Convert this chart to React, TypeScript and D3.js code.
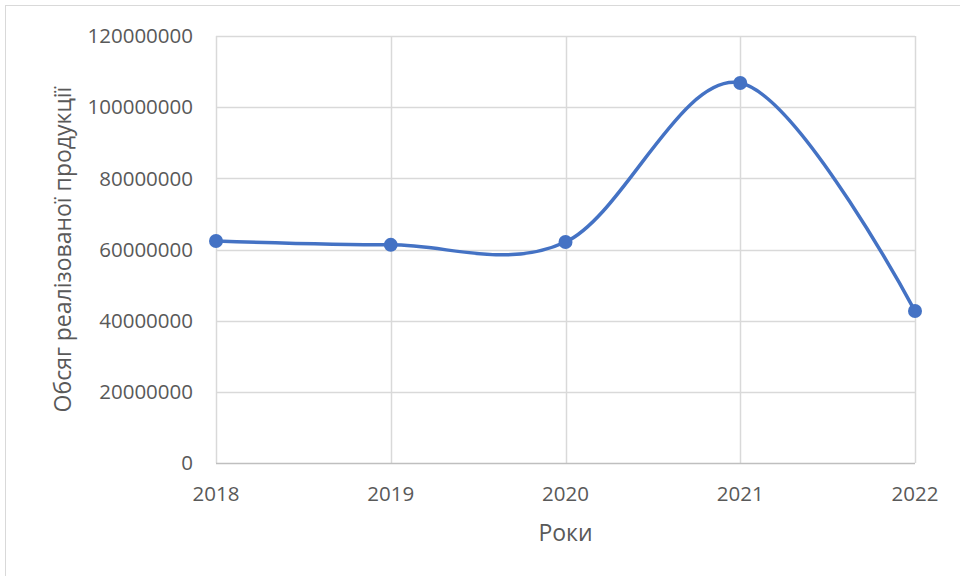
import React, { useEffect, useRef } from 'react';
import * as d3 from 'd3';

const years = ['2018', '2019', '2020', '2021', '2022'];
const volumes = [62400000, 61300000, 62100000, 106800000, 42700000];
const yTicks = [0, 20000000, 40000000, 60000000, 80000000, 100000000, 120000000];

const width = 960;
const height = 576;

const App = () => {
  const svgRef = useRef<SVGSVGElement | null>(null);

  useEffect(() => {
    if (!svgRef.current) return;
    const svg = d3.select(svgRef.current);
    svg.selectAll('*').remove();

    const margin = { top: 36, right: 45, bottom: 113, left: 216 };
    const chartWidth = width - margin.left - margin.right;
    const chartHeight = height - margin.top - margin.bottom;
    const font = '"Open Sans", sans-serif';
    const textColor = '#595959';

    // outer chart border
    svg.append('rect')
      .attr('x', 5.5)
      .attr('y', 5.5)
      .attr('width', width + 10)
      .attr('height', height + 10)
      .attr('fill', '#fff')
      .attr('stroke', '#d9d9d9');

    const content = svg.append('g')
      .attr('transform', `translate(${margin.left},${margin.top})`);

    const x = d3.scalePoint()
      .domain(years)
      .range([0, chartWidth]);

    const y = d3.scaleLinear()
      .domain([0, 120000000])
      .range([chartHeight, 0]);

    // horizontal grid
    content.append('g')
      .selectAll('line')
      .data(yTicks.slice(1))
      .join('line')
      .attr('x1', 0)
      .attr('x2', chartWidth)
      .attr('y1', d => Math.round(y(d)) + 0.5)
      .attr('y2', d => Math.round(y(d)) + 0.5)
      .attr('stroke', '#d9d9d9')
      .attr('stroke-width', 1.5);

    // vertical grid
    content.append('g')
      .selectAll('line')
      .data(years)
      .join('line')
      .attr('x1', d => Math.round(x(d) || 0) + 0.5)
      .attr('x2', d => Math.round(x(d) || 0) + 0.5)
      .attr('y1', 0)
      .attr('y2', chartHeight)
      .attr('stroke', '#d9d9d9')
      .attr('stroke-width', 1.5);

    // x axis line
    content.append('line')
      .attr('x1', 0)
      .attr('x2', chartWidth)
      .attr('y1', chartHeight + 0.5)
      .attr('y2', chartHeight + 0.5)
      .attr('stroke', '#bfbfbf')
      .attr('stroke-width', 1.5);

    // y tick labels
    content.append('g')
      .selectAll('text')
      .data(yTicks)
      .join('text')
      .attr('x', -23)
      .attr('y', d => y(d))
      .attr('dy', '0.35em')
      .attr('text-anchor', 'end')
      .style('font-family', font)
      .style('font-size', '20.5px')
      .style('fill', textColor)
      .text(d => String(d));

    // x tick labels
    content.append('g')
      .selectAll('text')
      .data(years)
      .join('text')
      .attr('x', d => x(d) || 0)
      .attr('y', chartHeight + 31)
      .attr('dy', '0.35em')
      .attr('text-anchor', 'middle')
      .style('font-family', font)
      .style('font-size', '20.5px')
      .style('fill', textColor)
      .text(d => d);

    // axis titles
    svg.append('text')
      .attr('x', margin.left + chartWidth / 2)
      .attr('y', 533)
      .attr('dy', '0.35em')
      .attr('text-anchor', 'middle')
      .style('font-family', font)
      .style('font-size', '23px')
      .style('fill', textColor)
      .text('Роки');

    svg.append('text')
      .attr('transform', `translate(63,${margin.top + chartHeight / 2}) rotate(-90)`)
      .attr('dy', '0.35em')
      .attr('text-anchor', 'middle')
      .style('font-family', font)
      .style('font-size', '23px')
      .style('fill', textColor)
      .text('Обсяг реалізованої продукції');

    const points = years.map((yr, i) => ({ year: yr, value: volumes[i] }));

    const line = d3.line<{ year: string; value: number }>()
      .x(d => x(d.year) || 0)
      .y(d => y(d.value))
      .curve(d3.curveCardinal.tension(0));

    content.append('path')
      .datum(points)
      .attr('d', line)
      .attr('fill', 'none')
      .attr('stroke', '#4472c4')
      .attr('stroke-width', 3.5)
      .attr('stroke-linecap', 'round');

    content.append('g')
      .selectAll('circle')
      .data(points)
      .join('circle')
      .attr('cx', d => x(d.year) || 0)
      .attr('cy', d => y(d.value))
      .attr('r', 7)
      .attr('fill', '#4472c4');
  }, []);

  return (
    <svg
      ref={svgRef}
      width={width}
      height={height}
      style={{ position: 'absolute', left: 0, top: 0, display: 'block' }}
    />
  );
};

export default App;
